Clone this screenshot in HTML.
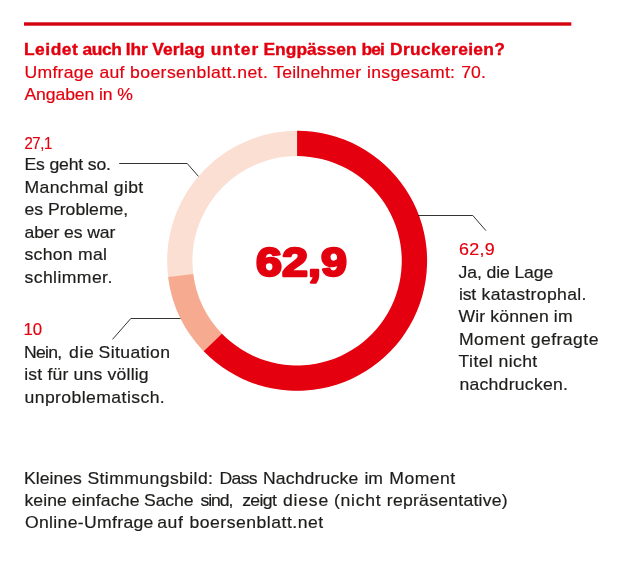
<!DOCTYPE html>
<html lang="de"><head><meta charset="utf-8"><title>Umfrage</title>
<style>
html,body{margin:0;padding:0;background:#fff}
svg{display:block}
text{font-family:"Liberation Sans",sans-serif;font-size:16px}
</style></head><body>
<svg width="630" height="561" viewBox="0 0 630 561">
<rect width="630" height="561" fill="#fff"/>
<rect x="24" y="22.3" width="547.3" height="3.4" fill="#d2040f"/>
<circle cx="297.1" cy="260.8" r="117.35" fill="none" stroke="#fcdfd3" stroke-width="25.30"/>
<path d="M204.38 351.92A130.0 130.0 0 0 1 168.13 277.09L193.23 273.92A104.7 104.7 0 0 0 222.42 334.19Z" fill="#f6ab91"/>
<path d="M297.10 130.80A130.0 130.0 0 1 1 203.74 351.27L221.91 333.66A104.7 104.7 0 1 0 297.10 156.10Z" fill="#e4000f"/>
<g fill="none" stroke="#1d1d1b" stroke-width="0.9">
<path d="M119.2 163.5H187.2L198.4 176.3"/>
<path d="M418 215.5H472.8L485.9 230.6"/>
<path d="M112.5 339.4L130.8 318.5H180.5"/>
</g>
<text transform="translate(24 55.4) scale(1.09 1)" fill="#e3000f" font-weight="bold" stroke="#e3000f" stroke-width="0.35"><tspan x="0.00" textLength="49.36" lengthAdjust="spacing">Leidet</tspan> <tspan x="53.76" textLength="36.06" lengthAdjust="spacing">auch</tspan> <tspan x="93.39" textLength="20.18" lengthAdjust="spacing">Ihr</tspan> <tspan x="117.61" textLength="48.44" lengthAdjust="spacing">Verlag</tspan> <tspan x="171.28" textLength="43.67" lengthAdjust="spacing">unter</tspan> <tspan x="219.63" textLength="85.60" lengthAdjust="spacing">Engpässen</tspan> <tspan x="309.72" textLength="21.28" lengthAdjust="spacing">bei</tspan> <tspan x="335.78" textLength="105.50" lengthAdjust="spacing">Druckereien?</tspan></text>
<text transform="translate(24.4 78.3) scale(1.1 1)" fill="#e3000f" stroke="#e3000f" stroke-width="0.18"><tspan x="0.00" textLength="63.00" lengthAdjust="spacing">Umfrage</tspan> <tspan x="68.18" textLength="22.82" lengthAdjust="spacing">auf</tspan> <tspan x="96.00" textLength="125.27" lengthAdjust="spacing">boersenblatt.net.</tspan> <tspan x="226.27" textLength="79.73" lengthAdjust="spacing">Teilnehmer</tspan> <tspan x="311.45" textLength="80.00" lengthAdjust="spacing">insgesamt:</tspan> <tspan x="397.09" textLength="22.36" lengthAdjust="spacing">70.</tspan></text>
<text transform="translate(24.4 100.4) scale(1.1 1)" fill="#e3000f" stroke="#e3000f" stroke-width="0.18" textLength="98.7" lengthAdjust="spacing">Angaben in %</text>
<text transform="translate(24.4 148.5) scale(0.93 1)" fill="#e3000f" stroke="#e3000f" stroke-width="0.18" textLength="30.0" lengthAdjust="spacing">27,1</text>
<text transform="translate(24.5 170.3) scale(1.1 1)" fill="#1d1d1b" stroke="#1d1d1b" stroke-width="0.18" textLength="78.6" lengthAdjust="spacing">Es geht so.</text>
<text transform="translate(24.5 192.7) scale(1.1 1)" fill="#1d1d1b" stroke="#1d1d1b" stroke-width="0.18" textLength="107.9" lengthAdjust="spacing">Manchmal gibt</text>
<text transform="translate(24.5 215.3) scale(1.1 1)" fill="#1d1d1b" stroke="#1d1d1b" stroke-width="0.18" textLength="94.3" lengthAdjust="spacing">es Probleme,</text>
<text transform="translate(24.5 237.7) scale(1.1 1)" fill="#1d1d1b" stroke="#1d1d1b" stroke-width="0.18" textLength="82.6" lengthAdjust="spacing">aber es war</text>
<text transform="translate(24.5 260) scale(1.1 1)" fill="#1d1d1b" stroke="#1d1d1b" stroke-width="0.18" textLength="75.0" lengthAdjust="spacing">schon mal</text>
<text transform="translate(24.5 282.6) scale(1.1 1)" fill="#1d1d1b" stroke="#1d1d1b" stroke-width="0.18" textLength="79.8" lengthAdjust="spacing">schlimmer.</text>
<text transform="translate(23.4 335.4) scale(1.05 1)" fill="#e3000f" stroke="#e3000f" stroke-width="0.18" textLength="17.9" lengthAdjust="spacing">10</text>
<text transform="translate(24 357.8) scale(1.1 1)" fill="#1d1d1b" stroke="#1d1d1b" stroke-width="0.18"><tspan x="0.00" textLength="34.73" lengthAdjust="spacing">Nein,</tspan> <tspan x="40.91" textLength="22.55" lengthAdjust="spacing">die</tspan> <tspan x="67.82" textLength="64.91" lengthAdjust="spacing">Situation</tspan></text>
<text transform="translate(24.2 380.2) scale(1.1 1)" fill="#1d1d1b" stroke="#1d1d1b" stroke-width="0.18" textLength="113.1" lengthAdjust="spacing">ist für uns völlig</text>
<text transform="translate(24.5 403) scale(1.1 1)" fill="#1d1d1b" stroke="#1d1d1b" stroke-width="0.18" textLength="127.5" lengthAdjust="spacing">unproblematisch.</text>
<text transform="translate(458.9 255.4) scale(1.12 1)" fill="#e3000f" stroke="#e3000f" stroke-width="0.18" textLength="31.9" lengthAdjust="spacing">62,9</text>
<text transform="translate(458.6 277.5) scale(1.1 1)" fill="#1d1d1b" stroke="#1d1d1b" stroke-width="0.18" textLength="86.0" lengthAdjust="spacing">Ja, die Lage</text>
<text transform="translate(459 299.9) scale(1.1 1)" fill="#1d1d1b" stroke="#1d1d1b" stroke-width="0.18"><tspan x="0.00" textLength="15.64" lengthAdjust="spacing">ist</tspan> <tspan x="20.55" textLength="95.27" lengthAdjust="spacing">katastrophal.</tspan></text>
<text transform="translate(458.6 322.2) scale(1.1 1)" fill="#1d1d1b" stroke="#1d1d1b" stroke-width="0.18" textLength="103.6" lengthAdjust="spacing">Wir können im</text>
<text transform="translate(459 345) scale(1.1 1)" fill="#1d1d1b" stroke="#1d1d1b" stroke-width="0.18" textLength="126.8" lengthAdjust="spacing">Moment gefragte</text>
<text transform="translate(458.6 367.2) scale(1.1 1)" fill="#1d1d1b" stroke="#1d1d1b" stroke-width="0.18" textLength="71.5" lengthAdjust="spacing">Titel nicht</text>
<text transform="translate(459.4 389.6) scale(1.1 1)" fill="#1d1d1b" stroke="#1d1d1b" stroke-width="0.18" textLength="98.7" lengthAdjust="spacing">nachdrucken.</text>
<text transform="translate(24 483.8) scale(1.1 1)" fill="#1d1d1b" stroke="#1d1d1b" stroke-width="0.18"><tspan x="0.00" textLength="52.64" lengthAdjust="spacing">Kleines</tspan> <tspan x="57.64" textLength="114.18" lengthAdjust="spacing">Stimmungsbild:</tspan> <tspan x="177.82" textLength="34.45" lengthAdjust="spacing">Dass</tspan> <tspan x="217.18" textLength="86.64" lengthAdjust="spacing">Nachdrucke</tspan> <tspan x="309.45" textLength="16.91" lengthAdjust="spacing">im</tspan> <tspan x="332.09" textLength="59.91" lengthAdjust="spacing">Moment</tspan></text>
<text transform="translate(24 505.9) scale(1.1 1)" fill="#1d1d1b" stroke="#1d1d1b" stroke-width="0.18"><tspan x="0.36" textLength="38.64" lengthAdjust="spacing">keine</tspan> <tspan x="43.45" textLength="61.55" lengthAdjust="spacing">einfache</tspan> <tspan x="109.09" textLength="45.00" lengthAdjust="spacing">Sache</tspan> <tspan x="160.45" textLength="30.00" lengthAdjust="spacing">sind,</tspan> <tspan x="198.36" textLength="31.55" lengthAdjust="spacing">zeigt</tspan> <tspan x="235.45" textLength="41.09" lengthAdjust="spacing">diese</tspan> <tspan x="281.82" textLength="42.45" lengthAdjust="spacing">(nicht</tspan> <tspan x="329.82" textLength="109.91" lengthAdjust="spacing">repräsentative)</tspan></text>
<text transform="translate(25 528.3) scale(1.1 1)" fill="#1d1d1b" stroke="#1d1d1b" stroke-width="0.18"><tspan x="0.00" textLength="116.73" lengthAdjust="spacing">Online-Umfrage</tspan> <tspan x="120.27" textLength="23.18" lengthAdjust="spacing">auf</tspan> <tspan x="149.55" textLength="121.55" lengthAdjust="spacing">boersenblatt.net</tspan></text>
<text transform="translate(301.5 276.2) scale(1.155 1)" text-anchor="middle" fill="#e3000f" stroke="#e3000f" stroke-width="2.4" stroke-linejoin="round" font-weight="bold" style="font-size:40.4px">62,9</text>
</svg></body></html>
